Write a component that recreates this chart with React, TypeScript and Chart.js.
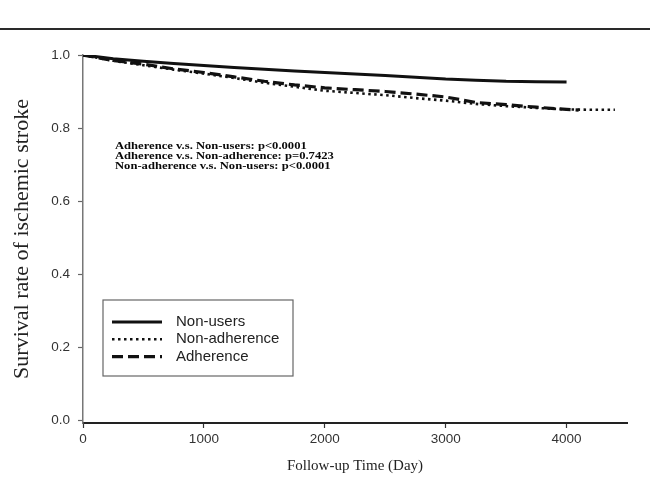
import React, { useEffect, useRef } from "react";
import { Chart, registerables } from "chart.js";
Chart.register(...registerables);

const xTicks = [0, 1000, 2000, 3000, 4000];
const yTicks = [0, 0.2, 0.4, 0.6, 0.8, 1.0];

const nonUsersDays = [0, 250, 500, 750, 1000, 1250, 1500, 1750, 2000, 2250, 2500, 2750, 3000, 3250, 3500, 3750, 4000];
const nonUsersSurv = [1.0, 0.99, 0.983, 0.977, 0.971, 0.966, 0.961, 0.956, 0.952, 0.948, 0.944, 0.939, 0.934, 0.931, 0.928, 0.927, 0.926];

const nonAdhDays = [0, 250, 500, 750, 1000, 1250, 1500, 1750, 2000, 2250, 2500, 2750, 3000, 3250, 3500, 3750, 4000, 4200, 4400];
const nonAdhSurv = [1.0, 0.984, 0.972, 0.96, 0.949, 0.937, 0.924, 0.913, 0.902, 0.896, 0.89, 0.882, 0.875, 0.866, 0.86, 0.855, 0.851, 0.85, 0.85];

const adhDays = [0, 250, 500, 750, 1000, 1250, 1500, 1750, 2000, 2250, 2500, 2750, 3000, 3250, 3500, 3750, 4000, 4100];
const adhSurv = [1.0, 0.985, 0.975, 0.962, 0.952, 0.94, 0.928, 0.918, 0.91, 0.905, 0.9, 0.893, 0.885, 0.87, 0.864, 0.857, 0.851, 0.849];

const seriesLabels = ["Non-users", "Non-adherence", "Adherence"];
const annotationLines = [
  "Adherence v.s. Non-users: p<0.0001",
  "Adherence v.s. Non-adherence: p=0.7423",
  "Non-adherence v.s. Non-users: p<0.0001",
];

const SERIF = '"Liberation Serif", "Times New Roman", serif';
const SANS = '"Liberation Sans", Arial, sans-serif';

const toPts = (xs: number[], ys: number[]) => xs.map((x, i) => ({ x, y: ys[i] }));

const styles = [
  { width: 3, dash: [] as number[] },
  { width: 2.6, dash: [2.5, 3.5] },
  { width: 3.2, dash: [11, 5] },
];

const overlayPlugin = {
  id: "overlay",
  afterDraw(chart: any) {
    const ctx = chart.ctx as CanvasRenderingContext2D;
    const ca = chart.chartArea;
    ctx.save();
    // top rule
    ctx.strokeStyle = "#2a2a2a";
    ctx.lineWidth = 2;
    ctx.beginPath();
    ctx.moveTo(0, 29);
    ctx.lineTo(650, 29);
    ctx.stroke();

    // annotation text (slightly wide serif bold)
    ctx.save();
    ctx.fillStyle = "#0a0a0a";
    ctx.font = `bold 10.5px ${SERIF}`;
    ctx.textAlign = "left";
    ctx.textBaseline = "middle";
    const sx = 1.2;
    ctx.translate(ca.left + 32, 0);
    ctx.scale(sx, 1);
    annotationLines.forEach((t, i) => ctx.fillText(t, 0, 146 + i * 10.3));
    ctx.restore();

    // legend
    const bx = ca.left + 20, by = 300, bw = 190, bh = 76;
    ctx.strokeStyle = "#666";
    ctx.lineWidth = 1.2;
    ctx.strokeRect(bx, by, bw, bh);
    ctx.font = `15px ${SANS}`;
    ctx.fillStyle = "#222";
    ctx.textAlign = "left";
    ctx.textBaseline = "middle";
    seriesLabels.forEach((lab, i) => {
      const y = 322 + i * 17.3;
      ctx.strokeStyle = "#111";
      ctx.lineWidth = styles[i].width;
      ctx.setLineDash(styles[i].dash);
      ctx.beginPath();
      ctx.moveTo(bx + 9, y);
      ctx.lineTo(bx + 59, y);
      ctx.stroke();
      ctx.setLineDash([]);
      ctx.fillText(lab, bx + 73, y);
    });
    ctx.restore();
  },
};

export default function App() {
  const ref = useRef<HTMLCanvasElement>(null);
  useEffect(() => {
    if (!ref.current) return;
    const data = [toPts(nonUsersDays, nonUsersSurv), toPts(nonAdhDays, nonAdhSurv), toPts(adhDays, adhSurv)];
    const chart = new Chart(ref.current, {
      type: "line",
      data: {
        datasets: data.map((d, i) => ({
          label: seriesLabels[i],
          data: d,
          borderColor: "#111",
          borderWidth: styles[i].width,
          borderDash: styles[i].dash,
          pointRadius: 0,
          fill: false,
          tension: 0,
        })),
      },
      options: {
        responsive: false,
        animation: false,
        layout: { padding: { top: 55, right: 23, left: 0, bottom: 0 } },
        plugins: { legend: { display: false }, tooltip: { enabled: false } },
        scales: {
          x: {
            type: "linear",
            min: 0,
            max: 4500,
            afterFit: (s: any) => { s.height = 57; },
            afterBuildTicks: (s: any) => { s.ticks = xTicks.map((v) => ({ value: v })); },
            grid: { drawOnChartArea: false, drawTicks: true, tickLength: 5, tickColor: "#333", tickWidth: 1.2 },
            border: { color: "#222", width: 2 },
            ticks: { color: "#333", font: { family: SANS, size: 13.5 }, padding: 3, maxRotation: 0, callback: (v: any) => String(v) },
            title: { display: true, text: "Follow-up Time (Day)", color: "#222", font: { family: SERIF, size: 15 }, padding: { top: 4, bottom: 5 } },
          },
          y: {
            type: "linear",
            min: -0.008,
            max: 1,
            afterFit: (s: any) => { s.width = 83; },
            afterBuildTicks: (s: any) => { s.ticks = yTicks.map((v) => ({ value: v })); },
            grid: { drawOnChartArea: false, drawTicks: true, tickLength: 5, tickColor: "#666", tickWidth: 1.2 },
            border: { color: "#777", width: 1.5 },
            ticks: { color: "#333", font: { family: SANS, size: 13.5 }, padding: 8, callback: (v: any) => Number(v).toFixed(1) },
            title: { display: true, text: "Survival rate of ischemic stroke", color: "#222", font: { family: SERIF, size: 22 }, padding: { top: 9, bottom: 0 } },
          },
        },
      },
      plugins: [overlayPlugin],
    });
    return () => chart.destroy();
  }, []);
  return (
    <div style={{ position: "fixed", left: 0, top: 0, width: 650, height: 480, background: "#fff" }}>
      <canvas ref={ref} width={650} height={480} style={{ width: 650, height: 480 }} />
    </div>
  );
}
